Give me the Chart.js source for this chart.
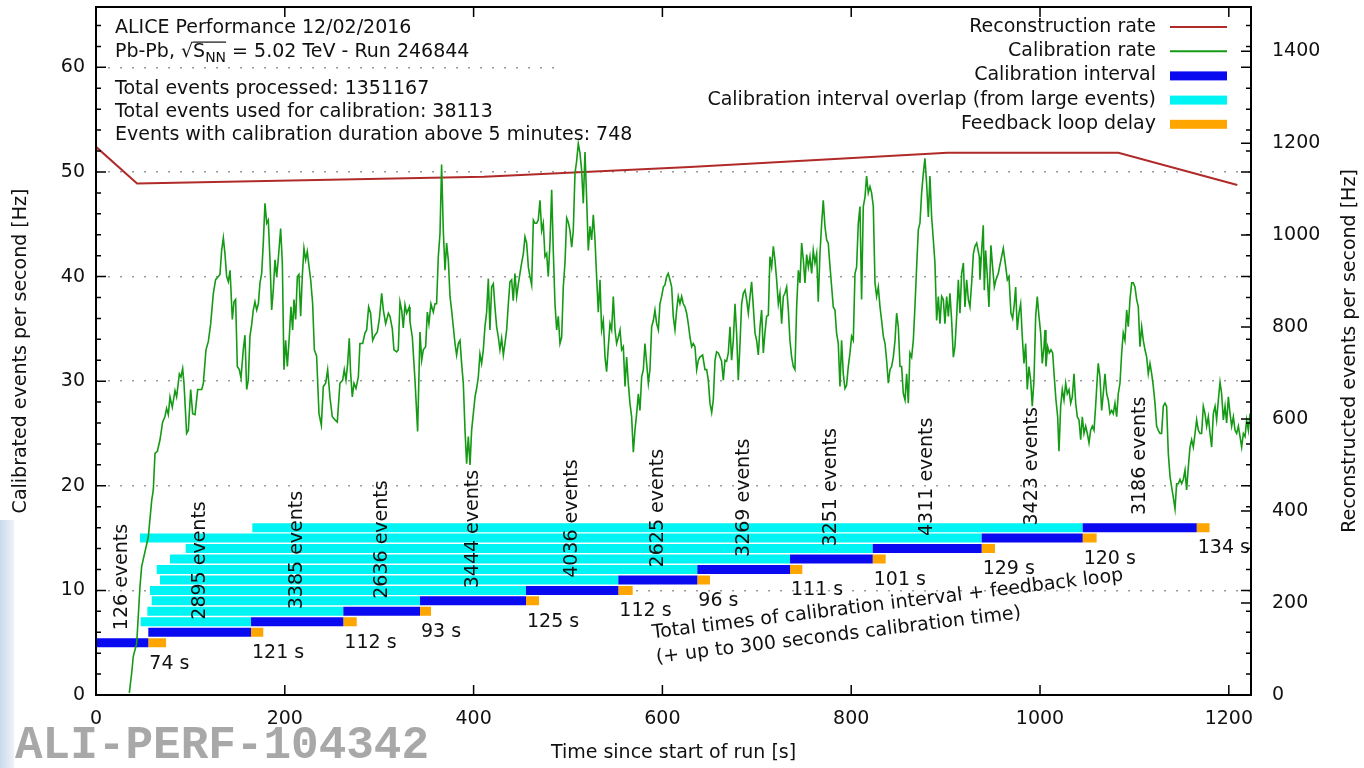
<!DOCTYPE html>
<html lang="en">
  <head>
    <meta charset="UTF-8" />
    <title>ALICE calibration rate</title>
    <style>
      * {
        box-sizing: border-box;
        margin: 0;
        padding: 0;
      }
      body,
      html {
        width: 100%;
        height: 100%;
        background-color: white;
      }
      #chart {
        display: block;
      }
    </style>
  </head>
  <body>
    <canvas id="chart" width="1364" height="768"></canvas>
    <script src="https://cdn.jsdelivr.net/npm/chart.js"></script>
    <script>
      const timeTicks = [0, 200, 400, 600, 800, 1000, 1200];
      const calibTicks = [0, 10, 20, 30, 40, 50, 60];
      const recoTicks = [0, 200, 400, 600, 800, 1000, 1200, 1400];

      // reconstruction rate (right axis, Hz)
      const recoTime = [0, 43.5, 411, 629, 902, 1083, 1209];
      const recoRate = [1192, 1112, 1127, 1148, 1179, 1179, 1109];

      // calibration rate (left axis, Hz)
      const calibTime = [
        35.3, 37.8, 39.5, 43.1, 46.6, 48.4, 55.4, 59, 60.7, 62.5, 65, 67.8, 70.6, 73, 74.8, 76.6, 78.4, 80.8, 83.7, 85.4,
        88.3, 90, 91.8, 93.2, 96, 97.8, 100.3, 102.4, 104.9, 107.7, 112, 113.7, 116.5, 119, 121.5, 124.3, 126.7, 129.6, 131.3, 133.1,
        134.9, 136.6, 138.4, 140.2, 142, 144.4, 146.2, 147.9, 149.7, 151.8, 153.6, 156, 157.8, 159.6, 161.3, 163.1, 164.9, 166.6, 168.4, 170.2,
        172, 173.7, 175.5, 177.2, 179, 180.8, 182.5, 184.3, 186.1, 187.8, 189.6, 191.4, 193.1, 195.6, 197.4, 199.1, 200.9, 202.7, 204.8, 206.5,
        208.3, 209.7, 211.5, 213.3, 215, 216.8, 218.5, 220.3, 222.1, 223.8, 225.6, 227.4, 229.5, 231.3, 233.7, 236.2, 238.7, 240.8, 243.3, 245.4,
        247.9, 250.3, 253.2, 255.6, 258.4, 261.3, 263, 264.8, 266.6, 268.3, 269.7, 271.5, 273.3, 275.4, 277.9, 279.6, 282.5, 284.9, 286.7, 288.8,
        290.9, 293.1, 295.5, 298, 300.1, 302.6, 304.4, 306.8, 309.7, 311.4, 313.9, 315.6, 318.5, 320.2, 322, 323.8, 325.5, 327.3, 329.1, 331.9,
        332.6, 335.1, 337.9, 340.7, 343.2, 345, 346.7, 349.2, 351, 352.7, 354.8, 357.3, 359.1, 360.8, 362.6, 364.4, 366.1, 367.9, 369.7, 371.4,
        373.2, 375, 376.7, 378.5, 380.3, 382, 383.8, 385.6, 387.3, 389.1, 390.9, 392.6, 394.4, 396.2, 397.9, 399.7, 401.5, 403.2, 405, 406.7,
        408.5, 410.3, 412, 413.8, 415.6, 417.3, 419.1, 420.9, 422.6, 424.4, 426.2, 427.9, 429.7, 431.5, 433.2, 435, 436.8, 438.5, 440.3, 442,
        443.8, 445.6, 447.4, 449.1, 450.9, 452.7, 454.4, 456.2, 458, 459.7, 461.5, 463.3, 465, 466.8, 468.5, 470.3, 472.1, 473.8, 475.6, 477.4,
        479.1, 480.9, 482.7, 484.4, 486.2, 488, 489.7, 491.5, 493.3, 495, 496.8, 498.6, 500.3, 502.1, 503.9, 505.6, 507.4, 509.1, 510.9, 512.7,
        514.4, 516.2, 518, 519.7, 521.5, 523.3, 525, 526.8, 528.6, 530.3, 532.1, 533.9, 535.6, 537.4, 539.2, 540.9, 542.7, 544.5, 546.2, 548,
        549.8, 551.5, 553.3, 555.1, 556.8, 558.6, 560.4, 562.1, 563.9, 565.6, 567.4, 569.2, 570.9, 572.7, 574.5, 576.2, 578, 579.8, 581.5, 583.3,
        585.1, 586.8, 588.6, 590.4, 592.1, 593.9, 595.7, 597.4, 599.2, 601, 602.7, 604.5, 606.2, 608, 609.8, 611.5, 613.3, 615.1, 616.8, 618.6,
        620.4, 622.1, 623.9, 625.7, 627.4, 629.2, 631, 632.7, 634.5, 636.3, 638, 639.8, 642.6, 645.1, 646.9, 648.6, 650.4, 652.2, 653.9, 655.7,
        657.4, 659.2, 661, 662.7, 664.5, 666.3, 668, 669.8, 671.6, 673.3, 675.1, 676.9, 678.6, 680.4, 682.2, 683.9, 685.7, 687.5, 689.2, 691,
        692.8, 694.5, 696.3, 698.1, 699.8, 701.6, 703.4, 705.1, 706.9, 708.6, 710.4, 712.2, 713.9, 715.7, 717.5, 719.2, 721, 722.8, 724.5, 726.3,
        728.1, 729.8, 731.6, 733.4, 735.1, 736.9, 738.7, 740.4, 742.2, 744, 745.7, 747.5, 749.3, 751, 752.8, 754.6, 756.3, 758.1, 759.8, 761.6,
        763.4, 765.1, 766.9, 768.7, 770.4, 772.2, 774, 775.7, 777.5, 779.3, 781, 782.8, 784.5, 786.3, 788.1, 789.8, 791.6, 793.4, 795.1, 796.9,
        798.7, 800.4, 802.2, 804, 805.7, 807.5, 809.3, 811, 812.8, 814.6, 816.3, 818.1, 819.9, 821.6, 823.4, 825.2, 826.9, 828.7, 830.5, 832.2,
        834, 835.8, 837.5, 839.3, 841.1, 842.8, 844.6, 846.4, 848.1, 849.9, 851.7, 853.4, 855.2, 857, 858.7, 860.5, 862.2, 864, 865.8, 867.5,
        869.3, 871.1, 872.8, 874.6, 876.4, 878.1, 879.9, 881.7, 883.4, 885.2, 887, 888.7, 890.5, 892.3, 894, 895.8, 897.6, 899.3, 901.1, 902.9,
        904.6, 906.4, 908.2, 909.9, 911.7, 913.5, 915.2, 917, 918.8, 920.5, 922.3, 924.1, 925.8, 927.6, 929.4, 931.1, 932.9, 935.7, 936.4, 938.2,
        939.9, 941, 942.4, 944.2, 945.9, 948, 949.8, 951.6, 953.3, 955.8, 958.6, 961.1, 963.6, 965.4, 967.1, 969.2, 971, 972.8, 974.2, 975.9,
        977.7, 979.5, 981.2, 983, 984.8, 986.5, 988.3, 990.1, 991.8, 993.6, 995.4, 997.1, 998.9, 1000.7, 1002.4, 1004.2, 1005.3, 1006.3, 1008.1, 1009.8,
        1011.6, 1013.4, 1015.1, 1016.9, 1018.7, 1020.1, 1021.9, 1023.6, 1025.4, 1027.2, 1028.9, 1030.7, 1032.5, 1034.2, 1036, 1037.8, 1039.5, 1041.3, 1043.1, 1044.8,
        1046.6, 1048.4, 1050.1, 1051.9, 1053.6, 1055.4, 1057.2, 1058.9, 1060.7, 1061.7, 1063.5, 1065.3, 1067, 1068.8, 1070.6, 1072.3, 1074.1, 1075.9, 1077.6, 1079.4,
        1081.2, 1082.9, 1084.7, 1086.5, 1088.2, 1090, 1091.8, 1093.5, 1095.3, 1097.1, 1098.8, 1100.6, 1102.4, 1104.1, 1105.9, 1107.7, 1109.4, 1111.2, 1113, 1114.7,
        1116.5, 1118.3, 1120, 1121.8, 1123.5, 1125.3, 1127.1, 1128.8, 1130.6, 1132.4, 1134.1, 1135.9, 1137.7, 1139.4, 1141.2, 1143, 1144.7, 1146.5, 1148.3, 1150,
        1151.8, 1153.6, 1155.3, 1157.1, 1158.9, 1160.6, 1162.4, 1164.2, 1165.9, 1167.7, 1169.5, 1171.2, 1173, 1174.8, 1176.5, 1178.3, 1180.1, 1181.8, 1183.6, 1185.4,
        1187.1, 1188.9, 1190.7, 1192.4, 1194.2, 1196, 1197.7, 1199.5, 1201.3, 1203, 1204.8, 1206.6, 1208.3, 1210.1, 1211.9, 1213.6, 1215.4, 1217.2, 1218.9, 1220.7,
        1222.5
      ];
      const calibRate = [
        0.2, 2.1, 3.7, 4.9, 10.4, 12.3, 15.1, 18.6, 19.6, 23.1, 23.3, 24.4, 26.1, 26.6, 27.4, 26.8, 28.5, 27.5, 29.1, 28.5,
        30.7, 30.4, 31.2, 29.8, 25.0, 25.3, 29.2, 26.9, 26.8, 29.2, 29.2, 29.8, 33.0, 33.8, 35.5, 38.4, 39.7, 40.0, 40.2, 42.5,
        43.7, 42.2, 40.0, 39.5, 40.6, 35.9, 37.6, 37.8, 31.4, 31.1, 30.3, 33.0, 34.4, 29.2, 30.1, 34.3, 35.4, 36.8, 37.6, 36.8,
        37.4, 39.4, 40.3, 43.2, 47.0, 45.1, 45.4, 41.6, 36.8, 38.7, 41.6, 40.0, 41.7, 44.6, 41.3, 31.1, 33.9, 31.4, 34.3, 37.1,
        34.9, 37.8, 35.9, 40.0, 40.2, 36.2, 40.0, 42.7, 41.6, 42.4, 41.0, 39.7, 37.4, 33.0, 32.4, 26.9, 25.8, 29.5, 29.8, 31.1,
        28.4, 26.6, 26.3, 26.1, 29.8, 30.1, 31.1, 30.1, 31.7, 34.1, 30.8, 28.5, 29.8, 29.3, 30.4, 33.6, 33.6, 34.6, 34.9, 37.1,
        36.5, 33.9, 34.4, 34.7, 35.9, 38.4, 36.8, 35.5, 36.5, 36.2, 35.0, 33.0, 32.8, 33.0, 37.6, 36.8, 35.1, 37.3, 36.5, 37.1,
        35.7, 34.2, 30.1, 25.2, 34.7, 32.0, 33.0, 33.3, 36.6, 35.5, 37.4, 36.6, 37.4, 37.4, 41.9, 44.1, 50.7, 44.4, 40.6, 43.2,
        41.6, 38.1, 36.8, 35.2, 33.6, 32.5, 33.6, 33.9, 31.7, 29.8, 25.3, 22.1, 24.7, 22.0, 25.3, 26.9, 28.5, 29.3, 30.4, 32.6,
        31.7, 33.0, 35.2, 36.6, 39.8, 34.9, 39.0, 39.3, 37.1, 35.2, 34.2, 33.0, 34.1, 32.5, 33.6, 34.9, 37.4, 39.5, 39.7, 37.7,
        40.3, 38.1, 39.3, 40.3, 41.3, 42.2, 43.8, 43.2, 40.9, 40.0, 39.2, 45.4, 45.1, 45.1, 45.4, 47.3, 44.4, 45.1, 41.9, 42.2,
        40.0, 43.2, 48.3, 42.5, 37.4, 34.9, 36.2, 33.6, 34.2, 39.0, 41.3, 45.6, 45.2, 44.4, 42.8, 44.4, 49.9, 51.0, 52.7, 51.8,
        50.2, 47.0, 51.9, 47.6, 42.5, 44.8, 43.5, 45.9, 43.5, 40.0, 36.6, 39.7, 34.9, 35.8, 32.3, 30.9, 33.3, 35.5, 34.9, 38.1,
        34.9, 33.6, 34.2, 34.9, 33.0, 33.3, 29.5, 32.3, 29.8, 27.9, 26.6, 23.2, 25.3, 26.9, 28.8, 27.2, 30.4, 31.1, 33.6, 31.7,
        29.8, 31.1, 35.2, 35.8, 36.8, 35.5, 34.9, 37.4, 38.1, 39.0, 39.2, 40.0, 40.3, 39.7, 39.0, 36.2, 34.9, 36.8, 38.1, 37.4,
        38.1, 37.4, 37.1, 36.5, 35.5, 34.2, 33.3, 33.6, 33.3, 31.1, 32.0, 32.3, 32.5, 31.1, 31.1, 30.1, 27.9, 27.0, 28.2, 32.0,
        32.8, 32.7, 32.3, 31.9, 30.1, 32.0, 31.9, 32.7, 35.2, 32.0, 33.9, 37.4, 34.6, 30.1, 33.6, 37.4, 38.4, 38.7, 37.8, 36.5,
        38.1, 39.5, 37.1, 34.6, 33.9, 32.5, 35.2, 36.8, 32.7, 34.6, 36.2, 36.3, 41.9, 40.9, 42.9, 41.6, 39.7, 37.4, 38.4, 35.5,
        38.1, 38.4, 39.0, 36.8, 33.9, 32.3, 31.4, 31.1, 37.1, 40.6, 39.4, 43.2, 41.6, 39.4, 42.1, 40.9, 41.9, 40.3, 42.5, 41.3,
        42.2, 37.6, 42.2, 45.1, 47.3, 44.8, 43.5, 43.2, 41.0, 39.0, 37.1, 36.8, 34.6, 33.6, 29.5, 33.9, 30.7, 29.3, 29.6, 31.4,
        32.7, 34.3, 33.9, 40.3, 40.9, 45.1, 46.7, 37.8, 46.7, 47.6, 49.6, 48.0, 48.6, 48.0, 46.7, 39.4, 38.1, 39.0, 37.1, 35.8,
        34.3, 33.6, 32.0, 29.8, 31.1, 31.4, 32.3, 33.9, 36.5, 35.2, 31.4, 31.4, 28.8, 28.2, 30.7, 27.9, 32.7, 32.3, 33.9, 37.1,
        40.9, 44.5, 45.1, 48.0, 49.9, 51.3, 48.9, 45.7, 49.6, 45.7, 43.5, 41.3, 35.8, 38.1, 35.5, 38.1, 37.8, 35.5, 38.1, 36.2,
        38.4, 35.8, 32.3, 33.3, 36.2, 39.7, 36.5, 40.3, 41.3, 37.1, 39.7, 37.8, 37.1, 39.4, 42.2, 42.9, 43.2, 41.9, 39.7, 42.5,
        44.9, 38.7, 42.5, 40.0, 37.1, 43.0, 40.9, 39.0, 39.7, 40.3, 41.6, 42.7, 41.0, 39.7, 40.0, 36.5, 36.0, 37.4, 39.0, 34.9,
        36.5, 37.4, 34.3, 31.7, 33.6, 29.2, 31.4, 30.1, 27.6, 30.1, 36.2, 38.1, 36.2, 34.6, 31.7, 33.3, 34.9, 31.4, 33.3, 32.7,
        33.0, 32.7, 30.4, 28.2, 26.6, 23.3, 27.6, 29.2, 28.2, 29.8, 28.8, 29.2, 27.9, 28.5, 30.7, 27.9, 26.6, 26.3, 24.4, 26.6,
        25.0, 25.7, 25.0, 24.1, 25.3, 25.7, 25.3, 27.6, 30.4, 31.7, 30.4, 27.2, 28.8, 30.7, 28.8, 28.2, 26.9, 27.2, 26.9, 27.9,
        26.6, 28.8, 29.8, 32.7, 34.6, 33.9, 36.8, 35.2, 37.8, 39.4, 39.4, 39.0, 37.8, 37.1, 33.3, 35.2, 33.9, 33.0, 32.3, 30.7,
        31.7, 30.7, 29.5, 27.9, 25.7, 25.3, 25.0, 25.0, 27.6, 27.9, 27.6, 23.1, 20.9, 19.9, 18.9, 17.8, 20.2, 20.2, 20.6, 20.2,
        20.6, 21.5, 19.6, 21.8, 23.7, 24.4, 23.7, 25.0, 26.3, 25.3, 25.0, 25.0, 27.6, 26.9, 25.7, 26.6, 25.0, 23.7, 26.9, 27.6,
        26.3, 28.2, 29.9, 28.8, 26.3, 27.6, 26.0, 28.5, 26.9, 25.7, 26.6, 25.3, 25.0, 25.7, 24.7, 23.7, 25.0, 24.7, 26.3, 25.3,
        26.9
      ];

      // one row per calibration (left-axis level), times in seconds
      const calibRow = [5, 6, 7, 8, 9, 10, 11, 12, 13, 14, 15, 16];
      const intervalStart = [0, 55.4, 164.2, 262, 343.2, 455.5, 553.3, 637, 735.2, 822.8, 938.2, 1045.2];
      const intervalEnd = [55.4, 164.2, 262, 343.2, 455.5, 553.3, 637, 735.2, 822.8, 938.2, 1045.2, 1166];
      const feedbackEnd = [74.2, 177.2, 276.2, 354.9, 469.3, 568.5, 650.4, 748.2, 836.5, 952.3, 1060, 1179.6];
      const overlapStart = [null, null, 47.3, 54.4, 59, 57.2, 67.8, 64.3, 78.4, 95, 46.6, 165.6];
      const eventCounts = [126, 2895, 3385, 2636, 3444, 4036, 2625, 3269, 3251, 4311, 3423, 3186];
      const totalTimes = [74, 121, 112, 93, 125, 112, 96, 111, 101, 129, 120, 134];

      const infoLines = [
        "Total events processed: 1351167",
        "Total events used for calibration: 38113",
        "Events with calibration duration above 5 minutes: 748",
      ];

      const FONT = "DejaVu Sans";
      Chart.defaults.font.family = FONT;
      Chart.defaults.font.size = 19;
      Chart.defaults.color = "#111";

      function toPoints(xs, ys) {
        return xs.map((x, i) => ({ x: x, y: ys[i] }));
      }

      // horizontal pieces for every row, separated by gaps
      function rowSegments(starts, ends) {
        const pts = [];
        calibRow.forEach((r, i) => {
          if (starts[i] == null) return;
          pts.push({ x: starts[i], y: r }, { x: ends[i], y: r }, { x: ends[i], y: null });
        });
        return pts;
      }

      // fixed ticks and fixed box size for each axis
      function axisSetup(values, size) {
        return {
          afterBuildTicks(s) {
            s.ticks = values.map((v) => ({ value: v }));
          },
          afterFit(s) {
            if (s.isHorizontal()) s.height = size;
            else s.width = size;
            s.paddingTop = 0;
            s.paddingBottom = 0;
            s.paddingLeft = 0;
            s.paddingRight = 0;
          },
        };
      }

      const barStyle = { borderWidth: 9, pointRadius: 0, spanGaps: false, borderCapStyle: "butt", yAxisID: "y" };

      const annotate = {
        id: "annotate",
        beforeDraw(chart) {
          const ctx = chart.ctx;
          ctx.save();
          const g = ctx.createLinearGradient(0, 0, 14, 0);
          g.addColorStop(0, "#c9d9ea");
          g.addColorStop(1, "#eef3f9");
          ctx.fillStyle = g;
          ctx.fillRect(0, 520, 14, 248);
          ctx.restore();
        },
        beforeDatasetsDraw(chart) {
          // the key box is opaque and hides the grid behind it
          const { ctx, chartArea: a } = chart;
          ctx.save();
          ctx.fillStyle = "#fff";
          ctx.fillRect(a.right - 693, a.top + 1, 692, 127);
          ctx.restore();
        },
        afterDatasetsDraw(chart) {
          const { ctx, chartArea: a, scales } = chart;
          const xs = scales.x, ys = scales.y, y2 = scales.y2;
          ctx.save();
          ctx.fillStyle = "#111";
          ctx.font = "19px " + FONT;

          // events per calibration, rotated
          calibRow.forEach((r, i) => {
            const px = xs.getPixelForValue((intervalStart[i] + intervalEnd[i]) / 2);
            const py = ys.getPixelForValue(r + 1.2);
            ctx.save();
            ctx.translate(px, py);
            ctx.rotate(-Math.PI / 2);
            ctx.textAlign = "left";
            ctx.textBaseline = "middle";
            ctx.fillText(eventCounts[i] + " events", 0, 0);
            ctx.restore();
          });

          // total time labels
          ctx.textAlign = "left";
          ctx.textBaseline = "middle";
          calibRow.forEach((r, i) => {
            ctx.fillText(totalTimes[i] + " s", xs.getPixelForValue(intervalEnd[i]) + 1, ys.getPixelForValue(r - 2));
          });

          // slanted note
          ctx.save();
          ctx.translate(xs.getPixelForValue(589), ys.getPixelForValue(5.9));
          ctx.rotate((-7 * Math.PI) / 180);
          ctx.fillText("Total times of calibration interval + feedback loop", 0, 0);
          ctx.fillText("(+ up to 300 seconds calibration time)", 1, 25);
          ctx.restore();

          // header text
          ctx.textBaseline = "alphabetic";
          const tx = a.left + 19;
          ctx.fillText("ALICE Performance 12/02/2016", tx, a.top + 26);
          let cx = tx;
          const by = a.top + 49.5;
          ctx.fillText("Pb-Pb, \u221A", cx, by);
          cx += ctx.measureText("Pb-Pb, \u221A").width;
          const sStart = cx;
          ctx.fillText("S", cx, by);
          cx += ctx.measureText("S").width;
          ctx.font = "14px " + FONT;
          ctx.fillText("NN", cx, by + 5);
          cx += ctx.measureText("NN").width;
          ctx.fillRect(sStart, by - 15, cx - sStart, 1.2);
          ctx.font = "19px " + FONT;
          ctx.fillText(" = 5.02 TeV - Run 246844", cx, by);
          infoLines.forEach((t, i) => ctx.fillText(t, tx, a.top + 86.5 + i * 23.3));

          // key
          const kx = a.right - 95;
          ctx.textAlign = "right";
          ctx.textBaseline = "middle";
          chart.data.datasets.forEach((ds, i) => {
            const ky = a.top + 20 + i * 24.2;
            ctx.fillStyle = "#111";
            ctx.fillText(ds.label, kx, ky);
            if (ds.borderWidth > 4) {
              ctx.fillStyle = ds.borderColor;
              ctx.fillRect(kx + 14, ky - 4, 57, 9);
            } else {
              ctx.strokeStyle = ds.borderColor;
              ctx.lineWidth = 2;
              ctx.beginPath();
              ctx.moveTo(kx + 14, ky);
              ctx.lineTo(kx + 71, ky);
              ctx.stroke();
            }
          });

          // frame and inward ticks
          ctx.strokeStyle = "#000";
          ctx.lineWidth = 1.5;
          ctx.beginPath();
          xs.ticks.forEach((t) => {
            const px = xs.getPixelForValue(t.value);
            ctx.moveTo(px, a.bottom);
            ctx.lineTo(px, a.bottom - 10);
            ctx.moveTo(px, a.top);
            ctx.lineTo(px, a.top + 10);
          });
          for (let v = 2; v < ys.max; v += 2) {
            const py = ys.getPixelForValue(v);
            const len = v % 10 === 0 ? 10 : 5;
            ctx.moveTo(a.left, py);
            ctx.lineTo(a.left + len, py);
            ctx.moveTo(a.right, py);
            ctx.lineTo(a.right - len, py);
          }
          y2.ticks.forEach((t) => {
            const py = y2.getPixelForValue(t.value);
            ctx.moveTo(a.right, py);
            ctx.lineTo(a.right - 10, py);
          });
          ctx.stroke();
          ctx.lineWidth = 2;
          ctx.strokeRect(a.left, a.top, a.right - a.left, a.bottom - a.top);

          // axis titles
          ctx.fillStyle = "#111";
          ctx.font = "19px " + FONT;
          ctx.textAlign = "center";
          ctx.textBaseline = "middle";
          ctx.fillText("Time since start of run [s]", (a.left + a.right) / 2, 753);
          [["Calibrated events per second [Hz]", 21], ["Reconstructed events per second [Hz]", 1350]].forEach(([t, x]) => {
            ctx.save();
            ctx.translate(x, (a.top + a.bottom) / 2);
            ctx.rotate(-Math.PI / 2);
            ctx.fillText(t, 0, 0);
            ctx.restore();
          });

          // plot id
          ctx.fillStyle = "#a8a8a8";
          ctx.font = "bold 46px 'Liberation Mono'";
          ctx.textAlign = "left";
          ctx.textBaseline = "alphabetic";
          ctx.fillText("ALI-PERF-104342", 15, 758);
          ctx.restore();
        },
      };

      new Chart(document.getElementById("chart"), {
        type: "line",
        data: {
          datasets: [
            {
              label: "Reconstruction rate",
              data: toPoints(recoTime, recoRate),
              borderColor: "#b02a2a",
              borderWidth: 2,
              pointRadius: 0,
              yAxisID: "y2",
              order: 1,
            },
            {
              label: "Calibration rate",
              data: toPoints(calibTime, calibRate),
              borderColor: "#159a15",
              borderWidth: 1.6,
              pointRadius: 0,
              yAxisID: "y",
              order: 0,
            },
            Object.assign({ label: "Calibration interval", data: rowSegments(intervalStart, intervalEnd), borderColor: "#0a0af0", order: 2 }, barStyle),
            Object.assign({ label: "Calibration interval overlap (from large events)", data: rowSegments(overlapStart, intervalStart), borderColor: "#00f4f4", order: 3 }, barStyle),
            Object.assign({ label: "Feedback loop delay", data: rowSegments(intervalEnd, feedbackEnd), borderColor: "#ffa500", order: 4 }, barStyle),
          ],
        },
        options: {
          responsive: false,
          animation: false,
          devicePixelRatio: 1,
          layout: { padding: { top: 7, left: 0, right: 0, bottom: 0 } },
          plugins: { legend: { display: false }, tooltip: { enabled: false } },
          scales: {
            x: Object.assign(
              {
                type: "linear",
                position: "bottom",
                min: 0,
                max: 1223.5,
                grid: { display: false, drawTicks: false },
                border: { display: false },
                ticks: { maxRotation: 0, padding: 13, callback: (v) => String(v) },
              },
              axisSetup(timeTicks, 73)
            ),
            y: Object.assign(
              {
                position: "left",
                min: 0,
                max: 65.77,
                grid: { color: "#9a9a9a", lineWidth: 1.5, drawTicks: false },
                border: { display: false, dash: [2, 10] },
                ticks: { padding: 11, callback: (v) => String(v) },
              },
              axisSetup(calibTicks, 96)
            ),
            y2: Object.assign(
              {
                position: "right",
                min: 0,
                max: 1496,
                grid: { display: false, drawTicks: false },
                border: { display: false },
                ticks: { padding: 21, callback: (v) => String(v) },
              },
              axisSetup(recoTicks, 113)
            ),
          },
        },
        plugins: [annotate],
      });
    </script>
  </body>
</html>
